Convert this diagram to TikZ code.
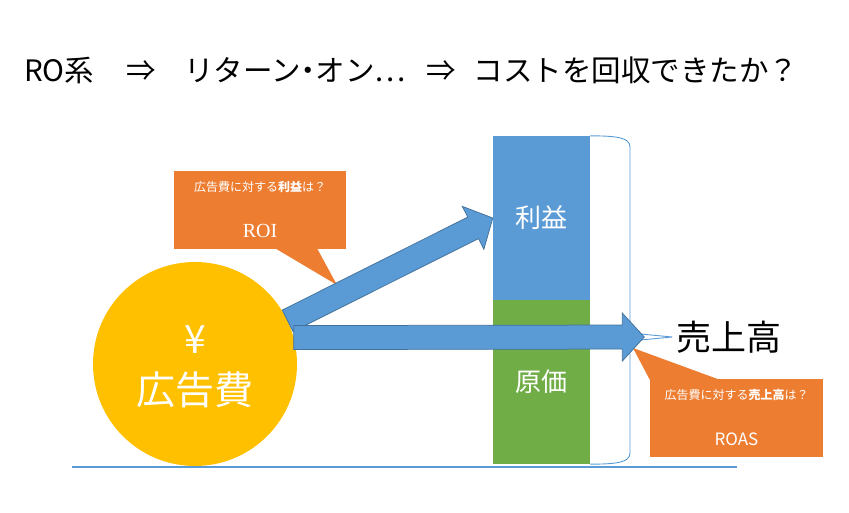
\documentclass[tikz,border=0pt]{standalone}
\usepackage{fontspec}
\setmainfont{Noto Sans CJK JP}
\newfontfamily\serifroman{Liberation Serif}
\usetikzlibrary{calc}
\definecolor{BarBlue}{HTML}{5B9BD5}
\definecolor{BarGreen}{HTML}{70AD47}
\definecolor{LineBlue}{HTML}{41719C}
\definecolor{CallOrange}{HTML}{ED7D31}
\definecolor{CoinGold}{HTML}{FFC000}
\newcommand{\fsize}[1]{\fontsize{#1}{#1}\selectfont}
\newcommand{\blockarrow}[2]{
  \filldraw[BlockArrow] let \p1 = ($(#2)-(#1)$), \n1 = {atan2(\y1,\x1)}, \n2 = {veclen(\x1,\y1)} in
    [shift={(#1)}, rotate=\n1] (0,-12) -- (\n2-22,-12) -- (\n2-22,-24) -- (\n2,0)
    -- (\n2-22,24) -- (\n2-22,12) -- (0,12) -- cycle;
}
\tikzset{
  Coin/.style     = {circle, fill=CoinGold, minimum size=204, inner sep=0},
  WhiteText/.style= {text=white, inner sep=0},
  Bar/.style      = {rectangle, minimum width=97, minimum height=164, inner sep=0,
                     text=white, font=\fsize{26}},
  CallBox/.style  = {rectangle, fill=CallOrange, minimum width=172, minimum height=78, inner sep=0},
  BlockArrow/.style = {fill=BarBlue, draw=LineBlue, line width=0.75pt},
  Brace/.style    = {draw=BarBlue, line width=0.9pt},
  Ground/.style   = {draw=BarBlue, line width=2.5pt}
}

\begin{document}
\begin{tikzpicture}[x=1pt, y=-1pt]
	\useasboundingbox (0,0) rectangle (849,513);
	\node[anchor=west, inner sep=0, font=\fsize{29.5}] (T) at (24,70)
		{RO系\hspace{1.1em}⇒\hspace{0.95em}リターン\makebox[0.5em]{・}オン…\hspace{0.7em}⇒\hspace{0.6em}コストを回収できたか？};
	\draw[Ground] (72,467) -- (737,467);
	\node[Coin] (A) at (195,364) {};
	\node[WhiteText, font=\fsize{39}] (Y) at ([yshift=24]A.center) {¥};
	\node[WhiteText, font=\fsize{39}] (AD) at ([yshift=-26]A.center) {広告費};
	\node[Bar, fill=BarBlue] (P) at (541.5,218) {利益};
	\node[Bar, fill=BarGreen] (C) at (541.5,382) {原価};
	\node[inner sep=0, font=\fsize{35}] (S) at (729,337) {売上高};
	\coordinate (S0) at ([xshift=-32]S.west);
	\draw[Brace] (P.north east) .. controls (615,136) and (630,137) .. (630,147) -- (630,333)
		-- ([xshift=-4]S.west) -- (630,341) -- (630,453) .. controls (630,463) and (615,464) .. (C.south east);
	\node[CallBox] (ROI) at (260,210) {};
	\fill[CallOrange] ([xshift=15,yshift=1]ROI.south) -- (337,285) -- ([xshift=57,yshift=1]ROI.south) -- cycle;
	\node[WhiteText, font=\fsize{12}] at ([yshift=23]ROI.center) {広告費に対する\textbf{利益}は？};
	\node[WhiteText, font=\serifroman\fsize{20}] at ([yshift=-21]ROI.center) {ROI};
	\node[CallBox, minimum width=173] (ROAS) at (736.5,418) {};
	\fill[CallOrange] ([yshift=-1]ROAS.north west) -- (633,348) -- ([xshift=70,yshift=-1]ROAS.north west) -- cycle;
	\node[WhiteText, font=\fsize{12}] at ([yshift=23]ROAS.center) {広告費に対する\textbf{売上高}は？};
	\node[WhiteText, font=\fsize{17}] at ([yshift=-21]ROAS.center) {ROAS};
	\blockarrow{A.25}{P.west}
	\blockarrow{A.15}{S0}
\end{tikzpicture}
\end{document}
